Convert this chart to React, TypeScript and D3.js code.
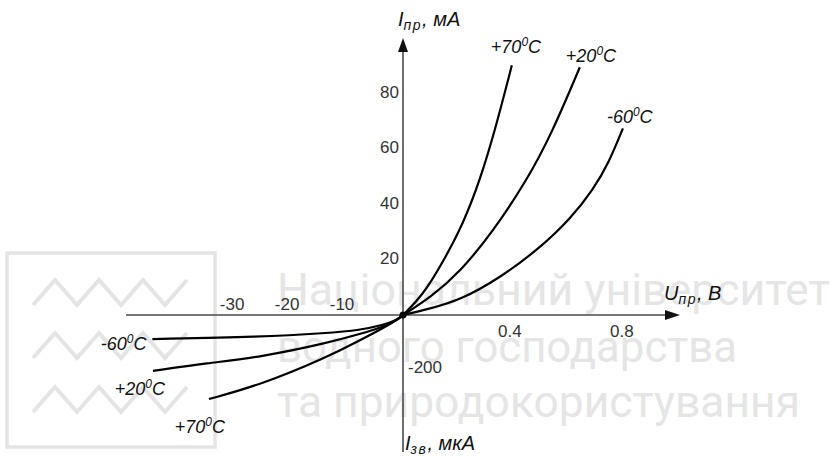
import React from 'react';
import * as d3 from 'd3';

const W = 835, H = 456;

// forward branch: [U, V ; I, mA]
const fwdPlus70: [number, number][] = [[0, 0], [0.07, 7], [0.143, 19.2], [0.215, 33], [0.275, 48.8], [0.329, 66.9], [0.389, 90.4]];
const fwdPlus20: [number, number][] = [[0, 0], [0.1, 6.5], [0.204, 15.6], [0.32, 30], [0.443, 48.8], [0.532, 65.8], [0.632, 89.7]];
const fwdMinus60: [number, number][] = [[0, 0], [0.1, 2.4], [0.204, 5.4], [0.346, 13.4], [0.489, 24.2], [0.6, 35], [0.68, 45.5], [0.735, 55], [0.786, 67.6]];

// reverse branch: [U, V ; I, uA]
const revMinus60: [number, number][] = [[-45.6, -89], [-26, -81], [-13.8, -67], [-7.8, -56], [-3.6, -37], [-1.1, -19], [0, 0]];
const revPlus20: [number, number][] = [[-45.5, -207], [-35.6, -178], [-26, -156], [-13.8, -104], [-7.8, -70], [-3.6, -44], [-1.1, -19], [0, 0]];
const revPlus70: [number, number][] = [[-35.3, -311], [-26, -259], [-13.8, -156], [-7.8, -93], [-3.6, -48], [-1.1, -19], [0, 0]];

const fwdTicksU = [0.4, 0.8];
const revTicksU = [-30, -20, -10];
const fwdTicksI = [20, 40, 60, 80];
const revTicksI = [-200];

const fwdTemps = ['+70', '+20', '-60'];
const revTemps = ['-60', '+20', '+70'];

const watermarkLines = ['Національний університет', 'водного господарства', 'та природокористування'];

const xF = d3.scaleLinear().domain([0, 0.99]).range([403, 680]);
const xR = d3.scaleLinear().domain([-50.4, 0]).range([126, 403]);
const yF = d3.scaleLinear().domain([0, 100.3]).range([315, 38]);
const yR = d3.scaleLinear().domain([-507, 0]).range([452, 315]);

const lineF = d3.line<[number, number]>().x(d => xF(d[0])).y(d => yF(d[1])).curve(d3.curveBasis);
const lineR = d3.line<[number, number]>().x(d => xR(d[0])).y(d => yR(d[1])).curve(d3.curveBasis);

const font = '"Liberation Sans", Arial, sans-serif';

function Temp({ x, y, t, anchor = 'start' }: { x: number; y: number; t: string; anchor?: string }) {
  return (
    <text x={x} y={y} fontSize={18} fontStyle="italic" textAnchor={anchor} fill="#111">
      {t}<tspan fontSize={12} dy={-7}>0</tspan><tspan dy={7}>C</tspan>
    </text>
  );
}

export default function App() {
  const fwd = [fwdPlus70, fwdPlus20, fwdMinus60];
  const rev = [revMinus60, revPlus20, revPlus70];
  const fwdOff = [[-21, -12], [-14, -5], [-16, -5]];
  const revOff = [[-6, 11], [12, 24], [16, 34]];
  const wmBase = [305, 362, 417];
  const wmLen = [553, 460, 523];
  const zig = (y0: number) => d3.range(8).map(i => [33 + i * 22, i % 2 === 0 ? y0 + 25 : y0]).map(p => p.join(',')).join(' ');

  return (
    <svg width={W} height={H} style={{ position: 'absolute', left: 0, top: 0, background: '#fff' }} fontFamily={font}>
      {/* watermark */}
      <g fill="none" stroke="#e4e4e4" strokeWidth={3.5}>
        <rect x={7} y={253} width={208} height={194} />
        {[280, 333, 387].map(y => <polyline key={y} points={zig(y)} strokeWidth={4} />)}
      </g>
      {watermarkLines.map((s, i) => (
        <text key={s} x={277} y={wmBase[i]} fontFamily="Roboto, sans-serif" fontSize={45} fill="#e5e5e5"
          textLength={wmLen[i]} lengthAdjust="spacingAndGlyphs">{s}</text>
      ))}

      {/* axes */}
      <g stroke="#4a4a4a" strokeWidth={1.6}>
        <line x1={xR.range()[0]} x2={xF.range()[1] - 8} y1={yF(0)} y2={yF(0)} />
        <line x1={xF(0)} x2={xF(0)} y1={yR.range()[0]} y2={yF.range()[1] + 8} />
      </g>
      <path d={`M${xF.range()[1]},${yF(0)} l-15,-5 l0,10 z`} fill="#111" />
      <path d={`M${xF(0)},${yF.range()[1]} l-5,14 l10,0 z`} fill="#111" />

      {/* tick labels */}
      <g fontSize={17} fill="#333">
        {fwdTicksI.map(v => <text key={v} x={xF(0) - 4} y={yF(v) + 4} textAnchor="end">{v}</text>)}
        {revTicksI.map(v => <text key={v} x={xF(0) + 5} y={yR(v) + 4} textAnchor="start">{v}</text>)}
        {fwdTicksU.map(v => <text key={v} x={xF(v) - 5} y={yF(0) + 22} textAnchor="middle">{v}</text>)}
        {revTicksU.map(v => <text key={v} x={xR(v) - 6} y={yF(0) - 5} textAnchor="middle">{v}</text>)}
      </g>

      {/* axis titles */}
      <g fontSize={20} fontStyle="italic" fill="#111">
        <text x={398} y={26}>I<tspan fontSize={14} dy={4} letterSpacing={1.5}>пр</tspan><tspan dy={-4}>, мА</tspan></text>
        <text x={664} y={300}>U<tspan fontSize={14} dy={4} letterSpacing={1.5}>пр</tspan><tspan dy={-4}>, В</tspan></text>
        <text x={405} y={450}>I<tspan fontSize={14} dy={4} letterSpacing={1.5}>зв</tspan><tspan dy={-4}>, мкА</tspan></text>
      </g>

      {/* curves */}
      <g fill="none" stroke="#000" strokeWidth={2.2}>
        {fwd.map((d, i) => <path key={'f' + i} d={lineF(d) || ''} />)}
        {rev.map((d, i) => <path key={'r' + i} d={lineR(d) || ''} />)}
      </g>
      <circle cx={xF(0)} cy={yF(0)} r={3.5} fill="#000" />

      {fwd.map((d, i) => {
        const p = d[d.length - 1];
        return <Temp key={'tf' + i} x={xF(p[0]) + fwdOff[i][0]} y={yF(p[1]) + fwdOff[i][1]} t={fwdTemps[i]} />;
      })}
      {rev.map((d, i) => {
        const p = d[0];
        return <Temp key={'tr' + i} x={xR(p[0]) + revOff[i][0]} y={yR(p[1]) + revOff[i][1]} t={revTemps[i]} anchor="end" />;
      })}
    </svg>
  );
}
